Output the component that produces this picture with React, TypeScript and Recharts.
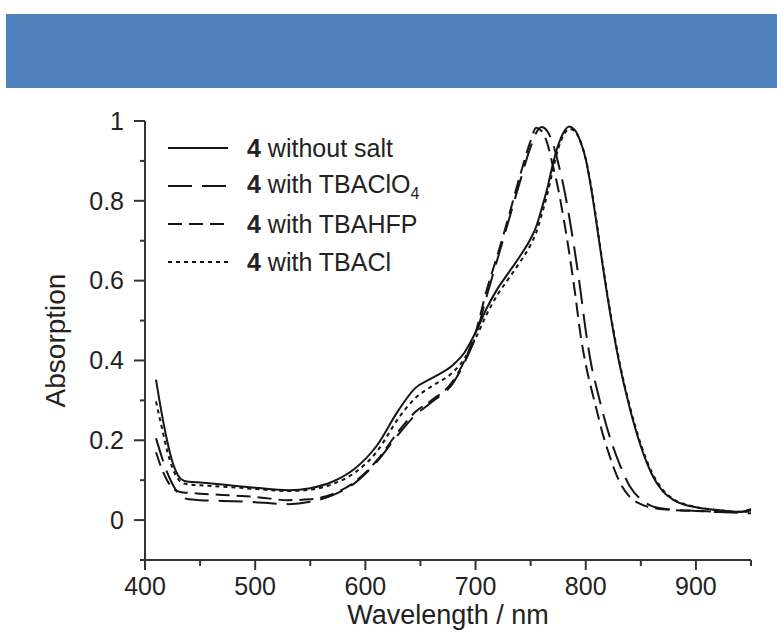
import { LineChart, Line, XAxis, YAxis, Legend } from "recharts";

// wavelength grid (nm) shared by all four spectra
const WAVELENGTH = [
  410, 415, 420, 425, 430, 435, 440, 450, 470, 500, 530, 550, 570, 590, 610, 630, 645, 660, 680, 690,
  700, 710, 720, 730, 740, 750, 755, 760, 765, 770, 775, 780, 785, 790, 795, 800, 805, 810, 815, 820,
  830, 840, 850, 860, 870, 880, 900, 920, 940, 950,
];

const NO_SALT = [
  0.352, 0.27, 0.2, 0.145, 0.112, 0.099, 0.096, 0.094, 0.089, 0.081, 0.075, 0.08, 0.096, 0.128, 0.185, 0.275, 0.33, 0.355, 0.39, 0.42,
  0.47, 0.53, 0.58, 0.62, 0.66, 0.705, 0.735, 0.78, 0.83, 0.89, 0.94, 0.972, 0.986, 0.978, 0.95, 0.905, 0.83, 0.74, 0.645, 0.555,
  0.4, 0.28, 0.185, 0.115, 0.072, 0.05, 0.032, 0.025, 0.021, 0.024,
];

const TBACLO4 = [
  0.205, 0.16, 0.12, 0.09, 0.068, 0.056, 0.052, 0.05, 0.048, 0.045, 0.04, 0.046, 0.062, 0.092, 0.145, 0.215, 0.262, 0.295, 0.345, 0.395,
  0.46, 0.56, 0.655, 0.75, 0.845, 0.935, 0.97, 0.985, 0.975, 0.945, 0.895, 0.835, 0.76, 0.675, 0.58, 0.475, 0.39, 0.33, 0.275, 0.225,
  0.145, 0.085, 0.052, 0.035, 0.029, 0.026, 0.023, 0.02, 0.018, 0.017,
];

const TBAHFP = [
  0.17, 0.13, 0.1, 0.08, 0.072, 0.069, 0.068, 0.066, 0.063, 0.058, 0.05, 0.052, 0.065, 0.095, 0.148, 0.222, 0.27, 0.3, 0.35, 0.4,
  0.47, 0.575, 0.665, 0.76, 0.86, 0.95, 0.983, 0.975, 0.945, 0.89, 0.83, 0.755, 0.67, 0.575, 0.47, 0.39, 0.33, 0.275, 0.22, 0.175,
  0.1, 0.058, 0.04, 0.031, 0.027, 0.025, 0.023, 0.021, 0.02, 0.028,
];

const TBACL = [
  0.297, 0.235, 0.175, 0.13, 0.103, 0.092, 0.089, 0.087, 0.084, 0.078, 0.073, 0.076, 0.09, 0.118, 0.17, 0.255, 0.305, 0.335, 0.372, 0.405,
  0.455, 0.515, 0.565, 0.605, 0.645, 0.69, 0.72, 0.765, 0.815, 0.875, 0.93, 0.965, 0.98, 0.975, 0.95, 0.905, 0.835, 0.745, 0.65, 0.56,
  0.405, 0.285, 0.19, 0.12, 0.076, 0.052, 0.033, 0.025, 0.021, 0.021,
];

const X_TICKS = [400, 450, 500, 550, 600, 650, 700, 750, 800, 850, 900, 950];
const Y_TICKS = [-0.1, 0, 0.1, 0.2, 0.3, 0.4, 0.5, 0.6, 0.7, 0.8, 0.9, 1];
const Y_MAJOR = ["0", "0.2", "0.4", "0.6", "0.8", "1"];

const SERIES = [
  { key: "noSalt", label: "without salt", sub: "", dash: undefined },
  { key: "clo4", label: "with TBAClO", sub: "4", dash: "24 10" },
  { key: "hfp", label: "with TBAHFP", sub: "", dash: "14 7" },
  { key: "cl", label: "with TBACl", sub: "", dash: "4 4" },
];

const FONT = "'Liberation Sans', Arial, sans-serif";
const INK = "#222";
const LINE = "#151515";

const data = WAVELENGTH.map((wl, i) => ({
  wl,
  noSalt: NO_SALT[i],
  clo4: TBACLO4[i],
  hfp: TBAHFP[i],
  cl: TBACL[i],
}));

const XTick = ({ x, y, payload }: any) => {
  const major = payload.value % 100 === 0;
  return (
    <g>
      <line x1={x} x2={x} y1={y} y2={y + (major ? 10 : 6)} stroke="#333" strokeWidth={2} />
      {major && (
        <text x={x} y={y + 26} dy="0.35em" textAnchor="middle" fontSize={25} fill={INK} fontFamily={FONT}>
          {payload.value}
        </text>
      )}
    </g>
  );
};

const YTick = ({ x, y, payload }: any) => {
  const label = String(payload.value);
  const major = Y_MAJOR.includes(label);
  return (
    <g>
      <line x1={x} x2={x - (major ? 11 : 5)} y1={y} y2={y} stroke="#333" strokeWidth={2} />
      {major && (
        <text x={x - 21} y={y} dy="0.35em" textAnchor="end" fontSize={25} fill={INK} fontFamily={FONT}>
          {label}
        </text>
      )}
    </g>
  );
};

const LegendBox = () => (
  <div style={{ fontFamily: FONT, color: INK }}>
    {SERIES.map((s) => (
      <div key={s.key} style={{ display: "flex", alignItems: "center", height: 38 }}>
        <svg width={60} height={10}>
          <line x1={0} x2={60} y1={5} y2={5} stroke={LINE} strokeWidth={2} strokeDasharray={s.dash} />
        </svg>
        <span style={{ marginLeft: 19, fontSize: 25, whiteSpace: "nowrap" }}>
          <b>4</b> {s.label}
          {s.sub && <sub style={{ fontSize: 16 }}>{s.sub}</sub>}
        </span>
      </div>
    ))}
  </div>
);

export default function App() {
  return (
    <div style={{ position: "absolute", left: 0, top: 0, width: 777, height: 633, background: "#fff" }}>
      <div style={{ position: "absolute", left: 6, top: 14, width: 771, height: 74, background: "#4F81BD" }} />
      <div style={{ position: "absolute", left: 0, top: 0 }}>
        <LineChart width={777} height={633} data={data} margin={{ top: 121, right: 26, bottom: 0, left: 0 }}>
          <XAxis
            dataKey="wl"
            type="number"
            domain={[400, 950]}
            ticks={X_TICKS}
            interval={0}
            height={73}
            tickSize={0}
            tickMargin={0}
            tickLine={false}
            axisLine={{ stroke: "#333", strokeWidth: 2 }}
            tick={<XTick />}
            label={{
              content: ({ viewBox }: any) => (
                <text
                  x={viewBox.x + viewBox.width / 2}
                  y={viewBox.y + 55}
                  dy="0.35em"
                  textAnchor="middle"
                  fontSize={27}
                  fill={INK}
                  fontFamily={FONT}
                >
                  Wavelength / nm
                </text>
              ),
            }}
          />
          <YAxis
            type="number"
            domain={[-0.1, 1]}
            ticks={Y_TICKS}
            interval={0}
            width={145}
            tickSize={0}
            tickMargin={0}
            tickLine={false}
            axisLine={{ stroke: "#333", strokeWidth: 2 }}
            tick={<YTick />}
            label={{
              content: ({ viewBox }: any) => {
                const cx = viewBox.x + 55;
                const cy = viewBox.y + viewBox.height / 2;
                return (
                  <text
                    x={cx}
                    y={cy}
                    dy="0.35em"
                    textAnchor="middle"
                    fontSize={28}
                    fill={INK}
                    fontFamily={FONT}
                    transform={`rotate(-90 ${cx} ${cy})`}
                  >
                    Absorption
                  </text>
                );
              },
            }}
          />
          <Legend
            layout="vertical"
            align="center"
            verticalAlign="middle"
            content={<LegendBox />}
            wrapperStyle={{ position: "absolute", left: 168, top: 129, width: 320 }}
          />
          {SERIES.map((s) => (
            <Line
              key={s.key}
              dataKey={s.key}
              name={s.label}
              type="monotone"
              stroke={LINE}
              strokeWidth={2}
              strokeDasharray={s.dash}
              dot={false}
              activeDot={false}
              isAnimationActive={false}
            />
          ))}
        </LineChart>
      </div>
    </div>
  );
}
